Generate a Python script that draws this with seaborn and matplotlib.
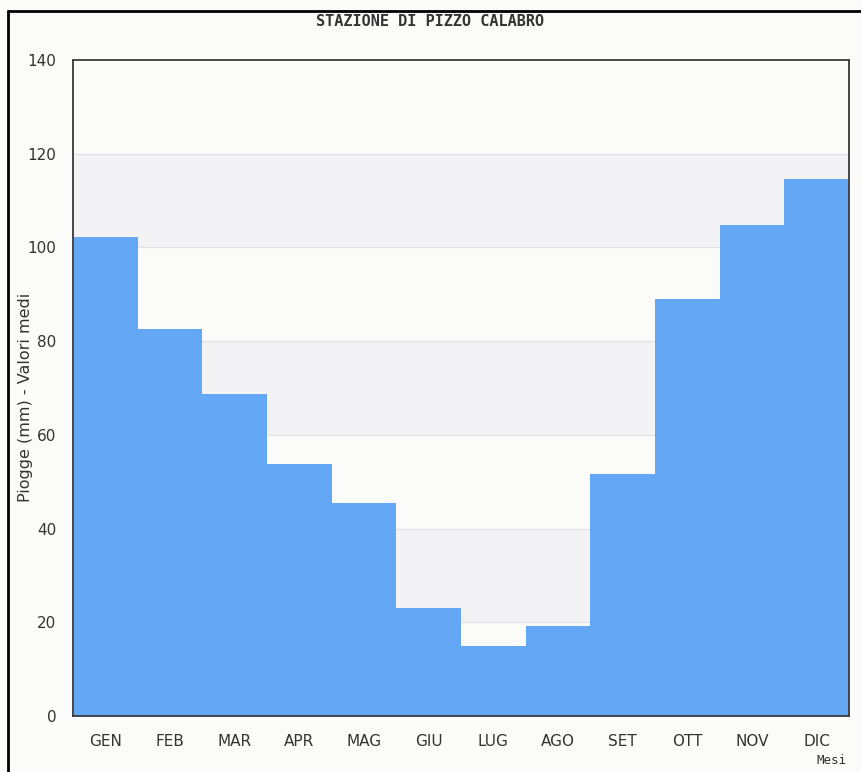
import matplotlib
matplotlib.use("Agg")
import matplotlib.pyplot as plt
import pandas as pd
import seaborn as sns
from matplotlib.lines import Line2D

# ---------------------------------------------------------------------------
# Data
# ---------------------------------------------------------------------------
MONTHS = ["GEN", "FEB", "MAR", "APR", "MAG", "GIU",
          "LUG", "AGO", "SET", "OTT", "NOV", "DIC"]
RAIN_MM = [102.3, 82.6, 68.8, 53.8, 45.5, 23.0,
           14.9, 19.2, 51.6, 89.0, 104.8, 114.6]
Y_TICKS = [0, 20, 40, 60, 80, 100, 120, 140]

TITLE = "STAZIONE DI PIZZO CALABRO"
Y_LABEL = "Piogge (mm) - Valori medi"
X_LABEL = "Mesi"

# ---------------------------------------------------------------------------
# Style
# ---------------------------------------------------------------------------
BAR = "#64A8F5"
BG = "#FBFCFA"
BAND = "#F3F2F4"
GRID = "#E2E0E4"
TEXT = "#333333"

sns.set_style("white")
plt.rcParams["font.family"] = ["DejaVu Sans"]

df = pd.DataFrame({"mese": MONTHS, "pioggia": RAIN_MM})

fig = plt.figure(figsize=(8.61, 7.72), dpi=100, facecolor=BG)
ax = fig.add_axes([0.0848, 0.0725, 0.9012, 0.8498])
ax.set_facecolor(BG)

# alternating bands between gridlines
for lo in Y_TICKS[1:-1:2]:
    ax.axhspan(lo, lo + 20, color=BAND, lw=0, zorder=0)
for y in Y_TICKS[1:-1]:
    ax.axhline(y, color=GRID, lw=0.9, zorder=0.5)

sns.barplot(data=df, x="mese", y="pioggia", color=BAR, saturation=1,
            width=1.0, linewidth=0, ax=ax, zorder=2)

ax.set_xlim(-0.5, len(MONTHS) - 0.5)
ax.set_ylim(0, 140)
ax.set_yticks(Y_TICKS)
ax.tick_params(axis="both", length=0, labelsize=11, labelcolor=TEXT)
ax.tick_params(axis="x", pad=13)
ax.tick_params(axis="y", pad=12)
ax.set_xlabel("")
ax.set_ylabel(Y_LABEL, fontsize=11.5, color=TEXT, va="center")
ax.yaxis.set_label_coords(-0.061, 0.485)
for side in ["left", "right", "top", "bottom"]:
    ax.spines[side].set_visible(True)
    ax.spines[side].set_color("#3a3a3a")
    ax.spines[side].set_linewidth(1.3)
    ax.spines[side].set_zorder(5)

fig.text(0.5, 1 - 21 / 772, TITLE, ha="center", va="center",
         family="DejaVu Sans Mono", fontweight="bold", fontsize=11, color=TEXT)
fig.text(0.983, 0.007, X_LABEL, ha="right", va="bottom",
         family="DejaVu Sans Mono", fontsize=9, color=TEXT)

# outer frame (top and left edges)
fig.add_artist(Line2D([8 / 861, 1.0], [1 - 11 / 772, 1 - 11 / 772],
                      transform=fig.transFigure, color="black", lw=2))
fig.add_artist(Line2D([8 / 861, 8 / 861], [0, 1 - 11 / 772],
                      transform=fig.transFigure, color="black", lw=2))

fig.savefig("out.png", dpi=100, facecolor=BG)
